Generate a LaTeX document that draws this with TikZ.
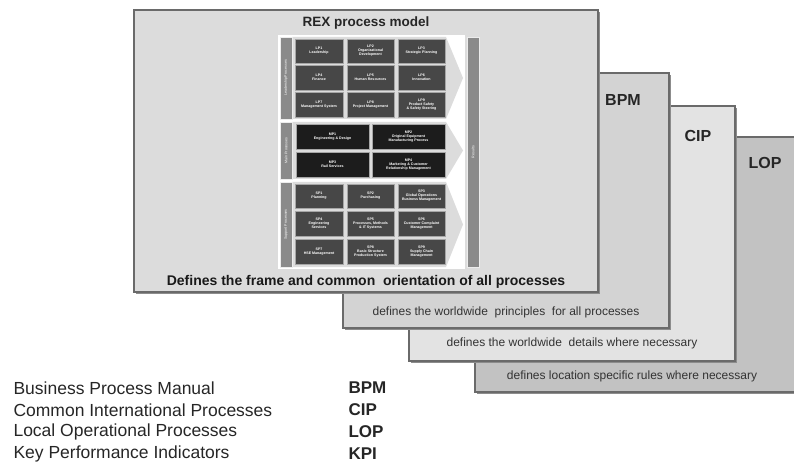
\documentclass[tikz,border=0pt]{standalone}
\usepackage{fontspec}
\setmainfont{Liberation Sans}
\definecolor{rexfill}{HTML}{DCDCDC}
\definecolor{bpmfill}{HTML}{D3D3D3}
\definecolor{cipfill}{HTML}{E3E3E3}
\definecolor{lopfill}{HTML}{C2C2C2}
\definecolor{framegray}{HTML}{6A6A6A}
\definecolor{celldark}{HTML}{474747}
\definecolor{cellblack}{HTML}{1C1C1C}
\definecolor{bargray}{HTML}{8A8A8A}

\begin{document}
\begin{tikzpicture}[
    x=1pt, y=-1pt,
    layer/.style={draw=framegray, line width=1.1pt},
    layershadow/.style={fill=black!45},
    cell/.style={fill=celldark, draw=gray!70, line width=0.3pt, text=white, inner sep=0pt,
      minimum width=47.5pt, minimum height=24.5pt, align=center,
      font=\fontsize{3.6}{4}\selectfont\bfseries},
    mcell/.style={cell, fill=cellblack, minimum width=73.5pt, minimum height=25pt},
    labelbar/.style={fill=bargray, draw=white!85!gray, line width=0.5pt},
    barlabel/.style={rotate=90, text=white, font=\fontsize{3.6}{4}\selectfont},
    sectionbg/.style={fill=rexfill},
    layertag/.style={font=\fontsize{16}{18}\selectfont\bfseries, text=black!85},
    layernote/.style={font=\fontsize{12}{14}\selectfont, text=black!80},
    legendtext/.style={anchor=west, font=\fontsize{17.5}{20}\selectfont, text=black!85},
    abbrev/.style={anchor=west, font=\fontsize{17}{20}\selectfont\bfseries, text=black!85}]
  \useasboundingbox (0,0) rectangle (794,462);
  \clip (0,0) rectangle (794,462);

  % stacked layers, back to front
  \fill[layershadow] (477,139) rectangle (802,394);
  \draw[layer, fill=lopfill] (475,137) rectangle (800,392);
  \node[layertag] (loptag) at (765,163) {LOP};
  \node[layernote] (lopnote) at (632,376) {defines location specific rules where necessary};
  \fill[layershadow] (411,108) rectangle (737,363);
  \draw[layer, fill=cipfill] (409,106) rectangle (735,361);
  \node[layertag] (ciptag) at (698,136) {CIP};
  \node[layernote] (cipnote) at (572,343) {defines the worldwide\ \ details where necessary};
  \fill[layershadow] (345,75) rectangle (671,330);
  \draw[layer, fill=bpmfill] (343,73) rectangle (669,328);
  \node[layertag] (bpmtag) at (623,100) {BPM};
  \node[layernote] (bpmnote) at (506,312) {defines the worldwide\ \ principles\ \ for all processes};
  \fill[layershadow] (136,12) rectangle (600,294);
  \draw[layer, fill=rexfill] (134,10) rectangle (598,292);
  \node[font=\fontsize{13.5}{15}\selectfont\bfseries, text=black!85] (rextitle) at (366,23) {REX process model};
  \node[font=\fontsize{14}{16}\selectfont\bfseries, text=black!90] (rexnote) at (366,282)
    {Defines the frame and common\ \ orientation of all processes};

  % process model
  \fill[white] (278,35.5) rectangle (465,268.5);
  \fill[sectionbg] (292,37) -- (446,37) -- (463,78) -- (446,119) -- (292,119) -- cycle;
  \fill[sectionbg] (292,122) -- (446,122) -- (463,150.5) -- (446,179) -- (292,179) -- cycle;
  \fill[sectionbg] (292,182) -- (446,182) -- (463,224.5) -- (446,267) -- (292,267) -- cycle;
  \draw[labelbar] (280,37) rectangle (292,119);
  \node[barlabel] (leadlbl) at (286,78) {Leadership Processes};
  \draw[labelbar] (280,122) rectangle (292,179);
  \node[barlabel] (mainlbl) at (286,150.5) {Main Processes};
  \draw[labelbar] (280,182) rectangle (292,267);
  \node[barlabel] (supplbl) at (286,224.5) {Support Processes};
  \draw[labelbar] (467,37) rectangle (479,267);
  \node[barlabel] (reslbl) at (473,152) {Results};

  \node[cell] (lp1) at (319,51) {LP1\\Leadership};
  \node[cell] (lp2) at (370.5,51) {LP2\\Organizational\\Development};
  \node[cell] (lp3) at (421.5,51) {LP3\\Strategic Planning};
  \node[cell] (lp4) at (319,77.5) {LP4\\Finance};
  \node[cell] (lp5) at (370.5,77.5) {LP5\\Human Resources};
  \node[cell] (lp6) at (421.5,77.5) {LP6\\Innovation};
  \node[cell] (lp7) at (319,104.5) {LP7\\Management System};
  \node[cell] (lp8) at (370.5,104.5) {LP8\\Project Management};
  \node[cell] (lp9) at (421.5,104.5) {LP9\\Product Safety\\\& Safety Steering};

  \node[mcell] (mp1) at (332.5,136.5) {MP1\\Engineering \& Design};
  \node[mcell] (mp2) at (408.5,136.5) {MP2\\Original Equipment\\Manufacturing Process};
  \node[mcell] (mp3) at (332.5,164.5) {MP3\\Rail Services};
  \node[mcell] (mp4) at (408.5,164.5) {MP4\\Marketing \& Customer\\Relationship Management};

  \node[cell] (sp1) at (319,196) {SP1\\Planning};
  \node[cell] (sp2) at (370.5,196) {SP2\\Purchasing};
  \node[cell] (sp3) at (421.5,196) {SP3\\Global Operations\\Business Management};
  \node[cell] (sp4) at (319,223.5) {SP4\\Engineering\\Services};
  \node[cell] (sp5) at (370.5,223.5) {SP5\\Processes, Methods\\\& IT Systems};
  \node[cell] (sp6) at (421.5,223.5) {SP6\\Customer Complaint\\Management};
  \node[cell] (sp7) at (319,251.5) {SP7\\HSE Management};
  \node[cell] (sp8) at (370.5,251.5) {SP8\\Basic Structure\\Production System};
  \node[cell] (sp9) at (421.5,251.5) {SP9\\Supply Chain\\Management};

  % legend
  \node[legendtext] (bpmlong) at (10,388) {Business\ Process\ Manual};
  \node[legendtext] (ciplong) at (10,410) {Common\ International\ Processes};
  \node[legendtext] (loplong) at (10,432) {Local\ Operational\ Processes};
  \node[legendtext] (kpilong) at (10,454) {Key\ Performance\ Indicators};
  \node[abbrev] (bpmabbr) at (345,388) {BPM};
  \node[abbrev] (cipabbr) at (345,410) {CIP};
  \node[abbrev] (lopabbr) at (345,432) {LOP};
  \node[abbrev] (kpiabbr) at (345,454) {KPI};
\end{tikzpicture}
\end{document}
